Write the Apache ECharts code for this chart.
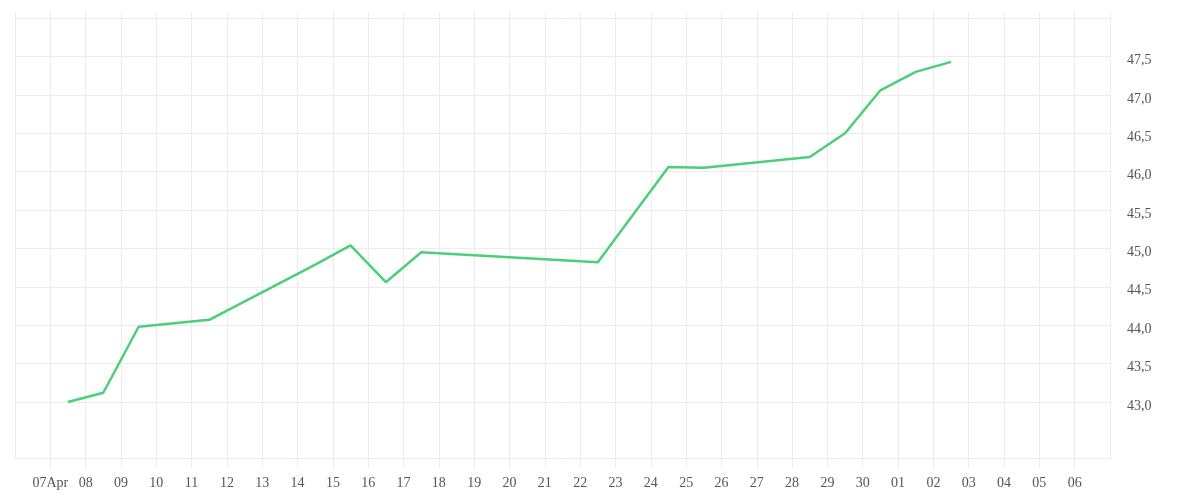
<!DOCTYPE html>
<html>
<head>
<meta charset="utf-8">
<script src="https://cdn.jsdelivr.net/npm/echarts@6/dist/echarts.min.js"></script>
<style>
html,body{margin:0;padding:0;background:#fff;}
#chart{width:1200px;height:500px;}
</style>
</head>
<body>
<div id="chart"></div>
<script>
// Data
const dates = [
  '2024-04-07T12:00:00Z','2024-04-08T12:00:00Z','2024-04-09T12:00:00Z','2024-04-11T12:00:00Z',
  '2024-04-14T12:00:00Z','2024-04-15T12:00:00Z','2024-04-16T12:00:00Z','2024-04-17T12:00:00Z',
  '2024-04-22T12:00:00Z','2024-04-24T12:00:00Z','2024-04-25T12:00:00Z','2024-04-28T12:00:00Z',
  '2024-04-29T12:00:00Z','2024-04-30T12:00:00Z','2024-05-01T12:00:00Z','2024-05-02T12:00:00Z'
];
const values = [43.00, 43.12, 43.98, 44.07, 44.79, 45.04, 44.56, 44.95,
                44.82, 46.06, 46.05, 46.19, 46.50, 47.06, 47.30, 47.43];
const xStart = '2024-04-06T00:00:00Z';
const xEnd = '2024-05-07T00:00:00Z';
const firstLabelMonth = 'Apr';
const yLabelValues = [43.0, 43.5, 44.0, 44.5, 45.0, 45.5, 46.0, 46.5, 47.0, 47.5];
const yLineValues = [43.0, 43.5, 44.0, 44.5, 45.0, 45.5, 46.0, 46.5, 47.0, 47.5, 48.0];
const yMin = 42.27;
const yMax = 48.08;

const DAY = 86400000;
const xMin = Date.parse(xStart);
const xMax = Date.parse(xEnd);
const seriesData = dates.map((d, i) => [Date.parse(d), values[i]]);

const gridColor = '#ececec';
const textColor = '#555555';
const font = 'Liberation Serif';

const chart = echarts.init(document.getElementById('chart'), null, {renderer: 'canvas'});
chart.setOption({
  animation: false,
  backgroundColor: '#ffffff',
  grid: {left: 15, right: 90, top: 12, bottom: 42, containLabel: false},
  xAxis: {
    type: 'value',
    min: xMin,
    max: xMax,
    interval: DAY,
    axisLine: {show: true, lineStyle: {color: gridColor, width: 1}},
    axisTick: {show: true, length: 10, lineStyle: {color: gridColor, width: 1}},
    splitLine: {show: true, lineStyle: {color: gridColor, width: 1}},
    axisLabel: {
      showMinLabel: false,
      showMaxLabel: false,
      margin: 18,
      color: textColor,
      fontFamily: font,
      fontSize: 14,
      formatter: function (v) {
        const d = new Date(v);
        const dd = String(d.getUTCDate()).padStart(2, '0');
        return (v === xMin + DAY) ? dd + firstLabelMonth : dd;
      }
    }
  },
  yAxis: {
    type: 'value',
    position: 'right',
    min: yMin,
    max: yMax,
    axisLine: {show: false},
    axisTick: {show: false, customValues: yLineValues},
    splitLine: {show: true, lineStyle: {color: gridColor, width: 1}},
    axisLabel: {
      customValues: yLabelValues,
      margin: 17,
      color: textColor,
      fontFamily: font,
      fontSize: 14,
      verticalAlign: 'top',
      lineHeight: 8,
      formatter: function (v) { return v.toFixed(1).replace('.', ','); }
    }
  },
  series: [{
    type: 'line',
    data: seriesData,
    symbol: 'none',
    lineStyle: {color: '#4ccf78', width: 2.5},
    itemStyle: {color: '#4ccf78'}
  }]
});
</script>
</body>
</html>
